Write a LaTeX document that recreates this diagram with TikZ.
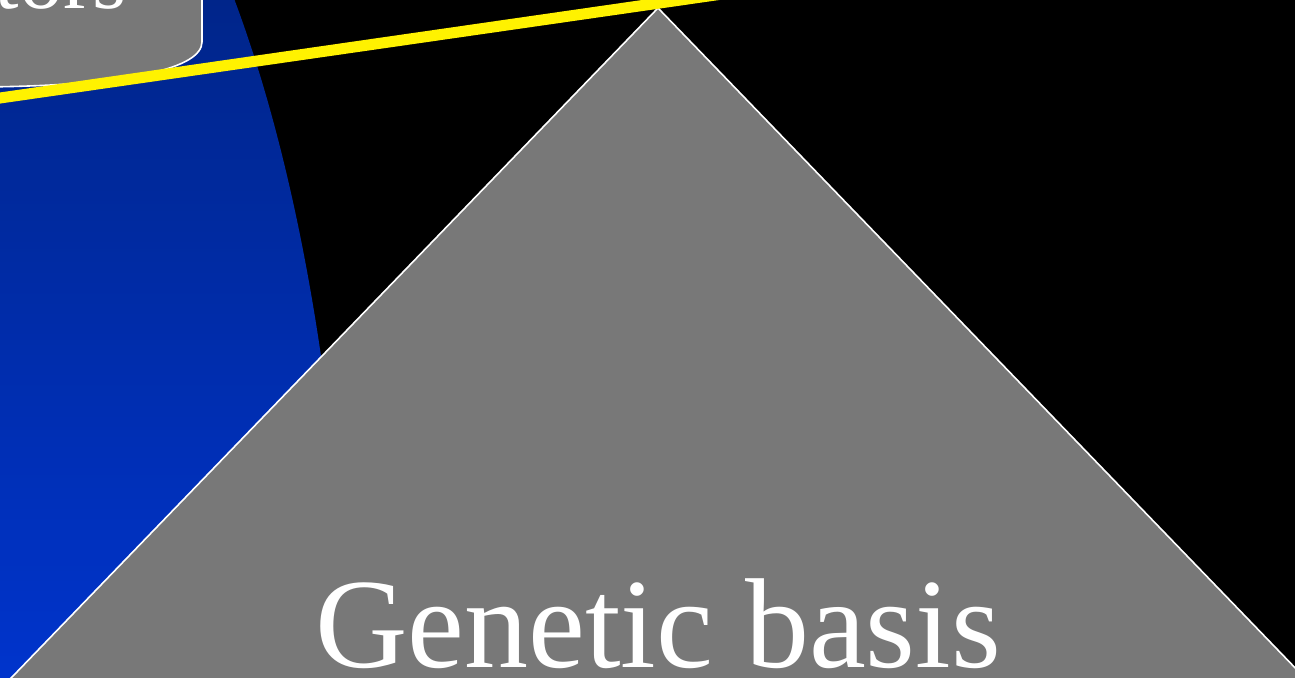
\documentclass[tikz,border=0pt]{standalone}
\usepackage{fontspec}
\setmainfont{Liberation Serif}
\begin{document}
\begin{tikzpicture}[x=0.5pt,y=-0.5pt,
  grayshape/.style={fill={rgb,255:red,120;green,120;blue,120},draw=white,line width=0.8pt},
  yellowline/.style={draw=yellow,line width=5.5pt},
  whitetext/.style={text=white,inner sep=0pt}]
\definecolor{bluetop}{RGB}{0,37,138}
\definecolor{bluebot}{RGB}{0,52,204}
\useasboundingbox (0,0) rectangle (1295,678);
\clip (0,0) rectangle (1295,678);
\fill[black] (0,0) rectangle (1295,678);
% blue ellipse with vertical gradient
\begin{scope}
  \clip (0,759) ellipse [x radius=174.5pt, y radius=512.5pt];
  \shade[top color=bluetop, bottom color=bluebot] (-10,0) rectangle (400,678);
\end{scope}
% grey rounded box (cut off)
\draw[grayshape] (-20,-20) -- (202,-20) -- (202,42) .. controls (202,68) and (130,86) .. (-20,87) -- cycle;
\node[whitetext,anchor=base east,font=\fontsize{44pt}{44pt}\selectfont] (tors) at (127,9) {tors};
% grey triangle
\coordinate (apex) at (658,8);
\coordinate (bl) at (-14,704);
\coordinate (br) at (1330,704);
\draw[grayshape] (apex) -- (br) -- (bl) -- cycle;
\node[whitetext,anchor=base,font=\fontsize{64pt}{64pt}\selectfont] (genetic) at (658,667) {Genetic basis};
% yellow line
\coordinate (ya) at (-20,100.9);
\coordinate (yb) at (730,-7.1);
\draw[yellowline] (ya) -- (yb);
\end{tikzpicture}
\end{document}
